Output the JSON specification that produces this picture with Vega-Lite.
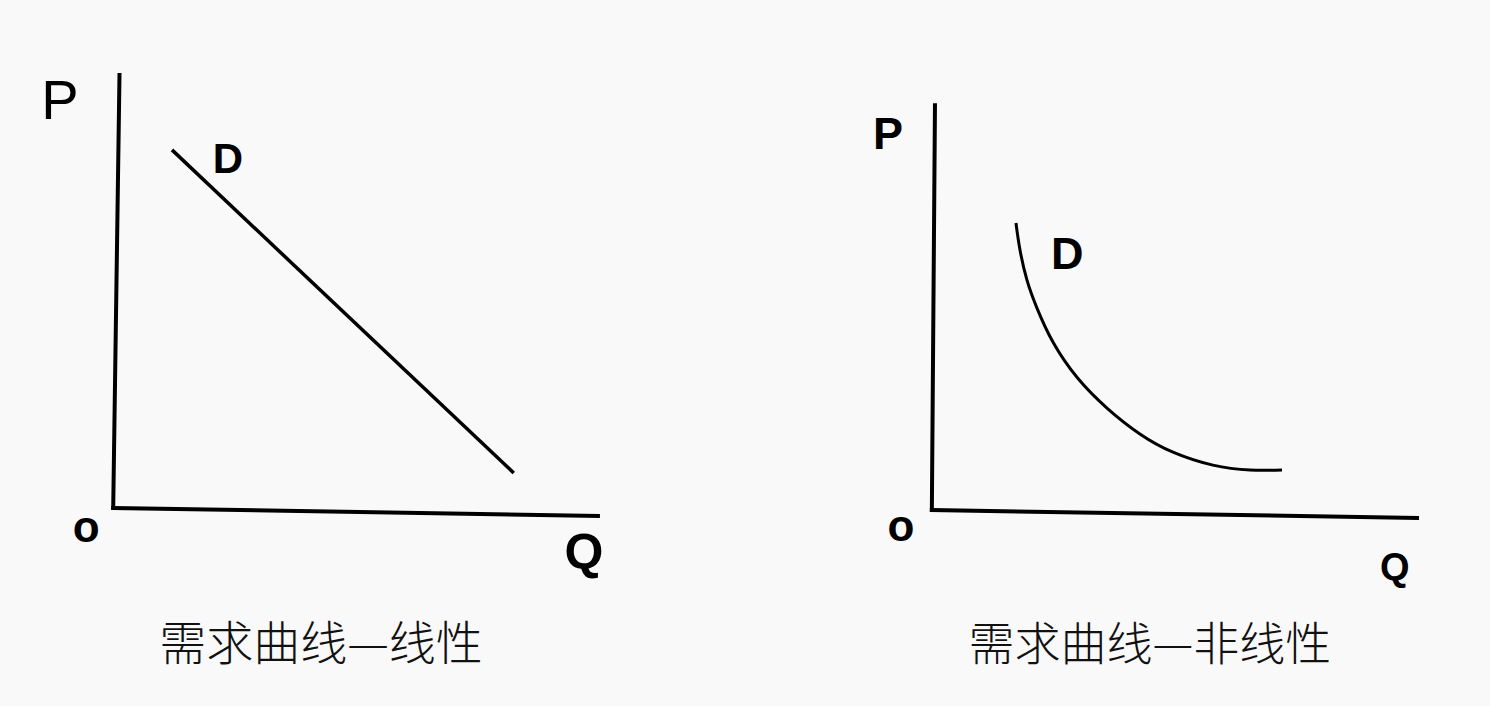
{
  "$schema": "https://vega.github.io/schema/vega-lite/v6.json",
  "background": "#f9f9f9",
  "padding": 0,
  "spacing": 0,
  "config": {"view": {"stroke": null}},
  "datasets": {
    "axesL": [
      {"Q": -0.06, "P": -0.03, "Q2": 0.07, "P2": 9.97},
      {"Q": -0.06, "P": -0.03, "Q2": 9.96, "P2": -0.21}
    ],
    "demandL": [
      {"Q": 1.155, "P": 8.24},
      {"Q": 8.22, "P": 0.78}
    ],
    "labelsL": [
      {"label": "P", "Q": -1.16, "P": 9.35},
      {"label": "D", "Q": 2.31, "P": 8.0},
      {"label": "o", "Q": -0.62, "P": -0.51},
      {"label": "Q", "Q": 9.67, "P": -1.09},
      {"label": "需求曲线—线性", "Q": 4.235, "P": -3.214}
    ],
    "axesR": [
      {"Q": 0.0, "P": 0.0, "Q2": 0.064, "P2": 10.0},
      {"Q": 0.0, "P": 0.0, "Q2": 9.996, "P2": -0.195}
    ],
    "demandR": [
      {"Q": 1.733, "P": 7.09},
      {"Q": 1.815, "P": 6.43},
      {"Q": 1.96, "P": 5.68},
      {"Q": 2.166, "P": 4.99},
      {"Q": 2.495, "P": 4.15},
      {"Q": 2.99, "P": 3.28},
      {"Q": 3.608, "P": 2.52},
      {"Q": 4.286, "P": 1.88},
      {"Q": 4.968, "P": 1.43},
      {"Q": 5.79, "P": 1.11},
      {"Q": 6.555, "P": 0.99},
      {"Q": 7.214, "P": 0.99}
    ],
    "labelsR": [
      {"label": "P", "Q": -0.905, "P": 9.27},
      {"label": "D", "Q": 2.79, "P": 6.3},
      {"label": "o", "Q": -0.637, "P": -0.44},
      {"label": "Q", "Q": 9.54, "P": -1.455},
      {"label": "需求曲线—非线性", "Q": 4.494, "P": -3.357}
    ]
  },
  "hconcat": [
    {
      "width": 745,
      "height": 706,
      "encoding": {
        "x": {"field": "Q", "type": "quantitative", "scale": {"domain": [-2.4, 13], "nice": false, "zero": false}, "axis": null},
        "y": {"field": "P", "type": "quantitative", "scale": {"domain": [-4.6, 11.7], "nice": false, "zero": false}, "axis": null}
      },
      "layer": [
        {
          "data": {"name": "axesL"},
          "mark": {"type": "rule", "color": "#000000", "strokeWidth": 4, "strokeCap": "square"},
          "encoding": {"x2": {"field": "Q2"}, "y2": {"field": "P2"}}
        },
        {
          "data": {"name": "demandL"},
          "mark": {"type": "line", "color": "#000000", "strokeWidth": 3.5}
        },
        {
          "data": {"name": "labelsL"},
          "transform": [{"filter": "datum.label === 'P'"}],
          "mark": {"type": "text", "font": "Liberation Sans", "fontSize": 56, "align": "center", "baseline": "middle", "color": "#000000"},
          "encoding": {"text": {"field": "label"}}
        },
        {
          "data": {"name": "labelsL"},
          "transform": [{"filter": "datum.label === 'D'"}],
          "mark": {"type": "text", "font": "Liberation Sans", "fontSize": 42, "fontWeight": "bold", "align": "center", "baseline": "middle", "color": "#000000"},
          "encoding": {"text": {"field": "label"}}
        },
        {
          "data": {"name": "labelsL"},
          "transform": [{"filter": "datum.label === 'o'"}],
          "mark": {"type": "text", "font": "Liberation Sans", "fontSize": 44, "fontWeight": "bold", "align": "center", "baseline": "middle", "color": "#000000"},
          "encoding": {"text": {"field": "label"}}
        },
        {
          "data": {"name": "labelsL"},
          "transform": [{"filter": "datum.label === 'Q'"}],
          "mark": {"type": "text", "font": "Liberation Sans", "fontSize": 50, "fontWeight": "bold", "align": "center", "baseline": "middle", "color": "#000000"},
          "encoding": {"text": {"field": "label"}}
        },
        {
          "data": {"name": "labelsL"},
          "transform": [{"filter": "length(datum.label) > 1"}],
          "mark": {"type": "text", "font": "Noto Sans CJK SC", "fontSize": 47, "fontWeight": 300, "align": "center", "baseline": "middle", "color": "#111111"},
          "encoding": {"text": {"field": "label"}}
        }
      ]
    },
    {
      "width": 745,
      "height": 706,
      "encoding": {
        "x": {"field": "Q", "type": "quantitative", "scale": {"domain": [-3.85, 11.5], "nice": false, "zero": false}, "axis": null},
        "y": {"field": "P", "type": "quantitative", "scale": {"domain": [-4.84, 12.6], "nice": false, "zero": false}, "axis": null}
      },
      "layer": [
        {
          "data": {"name": "axesR"},
          "mark": {"type": "rule", "color": "#000000", "strokeWidth": 4, "strokeCap": "square"},
          "encoding": {"x2": {"field": "Q2"}, "y2": {"field": "P2"}}
        },
        {
          "data": {"name": "demandR"},
          "mark": {"type": "line", "color": "#000000", "strokeWidth": 3, "interpolate": "natural"}
        },
        {
          "data": {"name": "labelsR"},
          "transform": [{"filter": "datum.label === 'P' || datum.label === 'D'"}],
          "mark": {"type": "text", "font": "Liberation Sans", "fontSize": 45, "fontWeight": "bold", "align": "center", "baseline": "middle", "color": "#000000"},
          "encoding": {"text": {"field": "label"}}
        },
        {
          "data": {"name": "labelsR"},
          "transform": [{"filter": "datum.label === 'o'"}],
          "mark": {"type": "text", "font": "Liberation Sans", "fontSize": 44, "fontWeight": "bold", "align": "center", "baseline": "middle", "color": "#000000"},
          "encoding": {"text": {"field": "label"}}
        },
        {
          "data": {"name": "labelsR"},
          "transform": [{"filter": "datum.label === 'Q'"}],
          "mark": {"type": "text", "font": "Liberation Sans", "fontSize": 38, "fontWeight": "bold", "align": "center", "baseline": "middle", "color": "#000000"},
          "encoding": {"text": {"field": "label"}}
        },
        {
          "data": {"name": "labelsR"},
          "transform": [{"filter": "length(datum.label) > 1"}],
          "mark": {"type": "text", "font": "Noto Sans CJK SC", "fontSize": 46, "fontWeight": 300, "align": "center", "baseline": "middle", "color": "#111111"},
          "encoding": {"text": {"field": "label"}}
        }
      ]
    }
  ]
}
